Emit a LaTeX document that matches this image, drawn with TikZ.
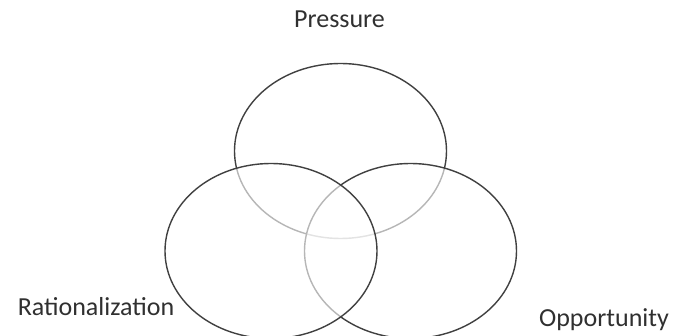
\documentclass[tikz,border=0pt]{standalone}
\usepackage{fontspec}
\setmainfont{Carlito}
\usetikzlibrary{shapes.geometric}
\definecolor{lin}{HTML}{404040}
\definecolor{txt}{HTML}{303030}
\tikzset{
  ring/.style={ellipse, draw=lin, line width=1.4pt, fill=white, fill opacity=0.62,
    draw opacity=1, minimum width=212pt, minimum height=175pt, inner sep=0pt},
  lab/.style={anchor=base, text=txt, font=\fontsize{26}{30}\selectfont, inner sep=0pt}
}
\begin{document}
\begin{tikzpicture}[x=1pt,y=-1pt]
\useasboundingbox (0,0) rectangle (673,336);
\node[ring] (p) at (340.5,151) {};
\node[ring] (o) at (410.5,251) {};
\node[ring] (r) at (271,251) {};
\node[lab] (lp) at (339.5,28) {Pressure};
\node[lab] (lr) at (96,316) {Rationalization};
\node[lab] (lo) at (604,327) {Opportunity};
\end{tikzpicture}
\end{document}
